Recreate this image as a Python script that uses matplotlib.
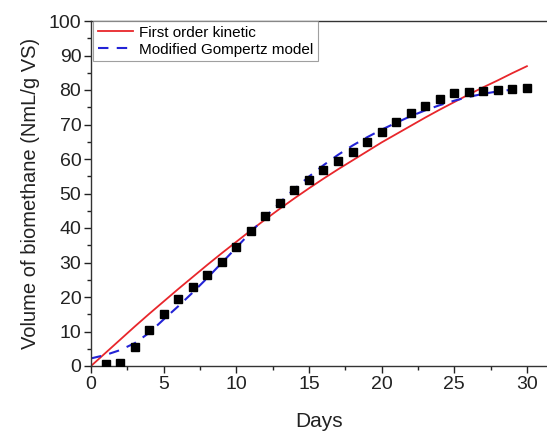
import matplotlib
matplotlib.use("Agg")
import matplotlib.pyplot as plt
from matplotlib.ticker import MultipleLocator

plt.rcParams['font.family'] = ['Liberation Sans', 'DejaVu Sans']

# Experimental data
days = list(range(1, 31))
volume = [0.5, 1.0, 5.5, 10.5, 15.2, 19.5, 23.0, 26.5, 30.2, 34.5,
          39.0, 43.5, 47.2, 51.0, 54.0, 56.7, 59.5, 62.1, 64.9, 67.7,
          70.6, 73.2, 75.4, 77.4, 79.0, 79.5, 79.8, 80.1, 80.2, 80.5]

# Model curves read at integer days
model_days = list(range(0, 31))
first_order = [0.0, 3.8, 7.6, 11.4, 15.1, 18.7, 22.3, 25.8, 29.3, 32.7,
               36.0, 39.3, 42.5, 45.6, 48.6, 51.5, 54.3, 57.0, 59.6, 62.2,
               64.8, 67.2, 69.6, 72.0, 74.3, 76.5, 78.7, 80.8, 82.8, 84.9,
               86.9]
gompertz = [2.2, 3.2, 4.6, 6.6, 9.6, 13.5, 17.3, 21.3, 25.5, 29.9,
            34.3, 38.8, 43.2, 47.4, 51.3, 54.9, 58.2, 61.2, 63.9, 66.3,
            68.5, 70.5, 72.4, 74.1, 75.6, 76.9, 78.0, 78.9, 79.6, 80.1,
            80.5]

fig = plt.figure(figsize=(5.47, 4.34), dpi=100)
ax = fig.add_axes([91/547, 68/434, 456/547, 345/434])

ax.plot(model_days, first_order, color='#e8262b', lw=1.3, label='First order kinetic')
ax.plot(model_days, gompertz, color='#2323d6', lw=1.5, ls=(0, (5, 4)), label='Modified Gompertz model')
ax.plot(days, volume, 's', color='black', ms=5.5, zorder=5)

ax.set_xlim(0, 456/14.53)
ax.set_ylim(0, 100)
ax.xaxis.set_major_locator(MultipleLocator(5))
ax.xaxis.set_minor_locator(MultipleLocator(2.5))
ax.yaxis.set_major_locator(MultipleLocator(10))
ax.yaxis.set_minor_locator(MultipleLocator(5))
ax.tick_params(which='major', direction='out', length=5, width=1, labelsize=14, colors='#222222', pad=2)
ax.tick_params(which='minor', direction='out', length=3, width=1, colors='#222222')
ax.spines['right'].set_visible(False)
for s in ['left', 'bottom', 'top']:
    ax.spines[s].set_color('#333333')
    ax.spines[s].set_linewidth(1.0)

ax.set_xlabel('Days', fontsize=15, color='#222222', labelpad=14)
ax.set_ylabel('Volume of biomethane (NmL/g VS)', fontsize=14.5, color='#222222', labelpad=6)

leg = ax.legend(loc='upper left', bbox_to_anchor=(0.005, 1.0), borderaxespad=0,
                fontsize=11, frameon=True, fancybox=False, handlelength=2.3,
                handletextpad=0.4, borderpad=0.3, labelspacing=0.2)
leg.get_frame().set_edgecolor('#888888')
leg.get_frame().set_linewidth(0.8)

fig.savefig('out.png', dpi=100)
